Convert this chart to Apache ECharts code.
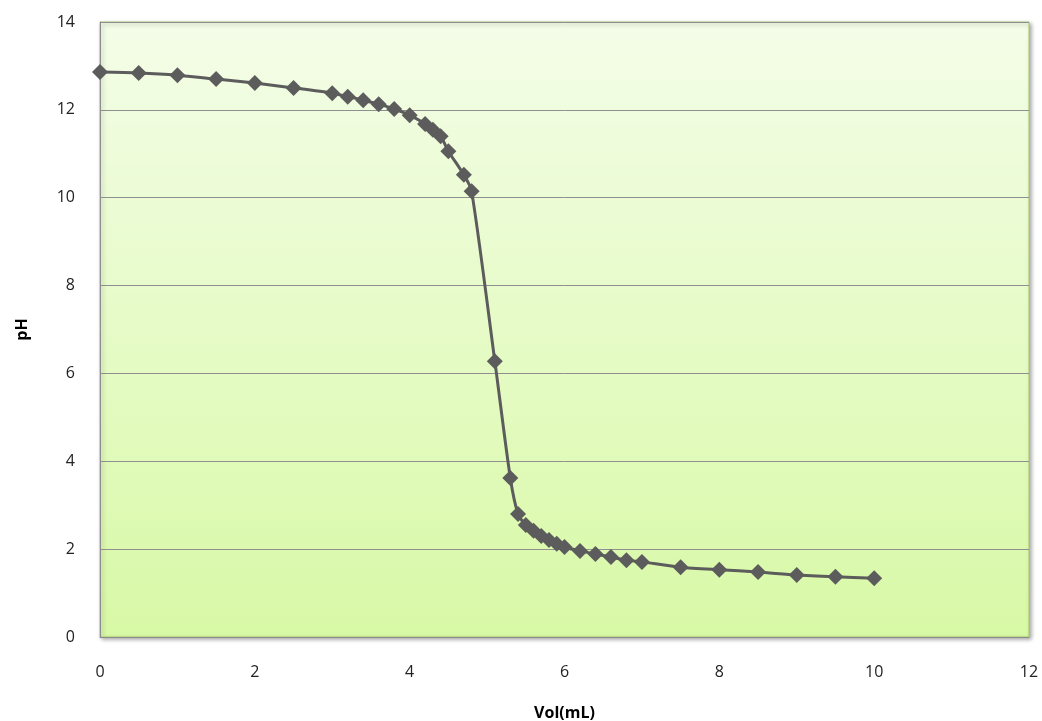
<!DOCTYPE html>
<html>
<head>
<meta charset="utf-8">
<script src="https://cdn.jsdelivr.net/npm/echarts@6/dist/echarts.min.js"></script>
<style>html,body{margin:0;padding:0;background:#fff}#c{width:1042px;height:721px}</style>
</head>
<body>
<div id="c"></div>
<script>
var volume = [0, 0.5, 1, 1.5, 2, 2.5, 3, 3.2, 3.4, 3.6, 3.8, 4.0, 4.2, 4.3, 4.4, 4.5, 4.7, 4.8, 5.1, 5.3, 5.4, 5.5, 5.6, 5.7, 5.8, 5.9, 6.0, 6.2, 6.4, 6.6, 6.8, 7.0, 7.5, 8, 8.5, 9, 9.5, 10];
var pH = [12.86, 12.84, 12.79, 12.70, 12.61, 12.50, 12.38, 12.30, 12.22, 12.13, 12.02, 11.88, 11.68, 11.55, 11.40, 11.06, 10.52, 10.15, 6.28, 3.62, 2.80, 2.55, 2.42, 2.30, 2.21, 2.12, 2.05, 1.96, 1.89, 1.82, 1.75, 1.71, 1.59, 1.53, 1.48, 1.41, 1.37, 1.34];
var xTitle = 'Vol(mL)';
var yTitle = 'pH';

var chart = echarts.init(document.getElementById('c'));
var font = '"Open Sans", "Liberation Sans", sans-serif';
chart.setOption({
  animation: false,
  grid: {
    left: 100, top: 22, right: 13, bottom: 84,
    containLabel: false,
    outerBoundsMode: 'none',
    show: true,
    borderColor: '#a6c96a',
    borderWidth: 1,
    backgroundColor: new echarts.graphic.LinearGradient(0, 0, 0, 1, [
      {offset: 0, color: '#f4fde8'},
      {offset: 1, color: '#d8f9a6'}
    ]),
    shadowColor: 'rgba(0,0,0,0.35)',
    shadowBlur: 4,
    shadowOffsetX: 2,
    shadowOffsetY: 2
  },
  xAxis: {
    type: 'value', min: 0, max: 12, interval: 2,
    name: xTitle, nameLocation: 'middle', nameGap: 68,
    nameTextStyle: {fontFamily: font, fontSize: 16, fontWeight: 'bold', color: '#000'},
    axisLine: {show: true, lineStyle: {color: '#8c8c8c', width: 1}},
    axisTick: {show: false},
    axisLabel: {fontFamily: font, fontSize: 16, color: '#222', margin: 27},
    splitLine: {show: false}
  },
  yAxis: {
    type: 'value', min: 0, max: 14, interval: 2,
    name: yTitle, nameLocation: 'middle', nameGap: 70,
    nameTextStyle: {fontFamily: font, fontSize: 16, fontWeight: 'bold', color: '#000'},
    axisLine: {show: true, lineStyle: {color: '#8c8c8c', width: 1}},
    axisTick: {show: false},
    axisLabel: {fontFamily: font, fontSize: 16, color: '#222', margin: 25},
    splitLine: {show: true, lineStyle: {color: '#8f8f8f', width: 1}}
  },
  series: [{
    type: 'line',
    data: volume.map(function (v, i) { return [v, pH[i]]; }),
    smooth: 0.25,
    symbol: 'diamond',
    symbolSize: 16,
    showAllSymbol: true,
    lineStyle: {color: '#5c5c5c', width: 3},
    itemStyle: {color: '#5c5c5c', borderWidth: 0}
  }]
});
</script>
</body>
</html>
